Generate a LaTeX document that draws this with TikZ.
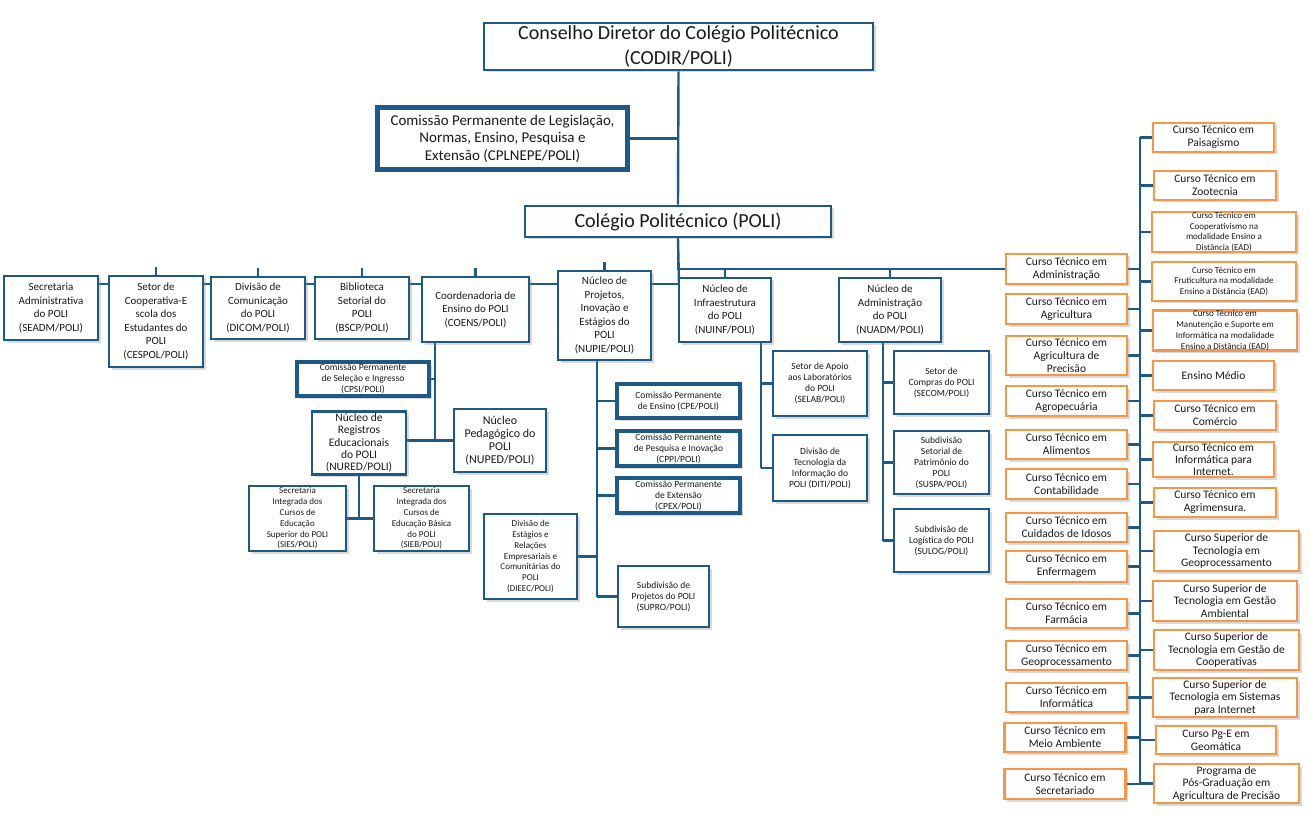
\documentclass[tikz,border=0pt]{standalone}
\usepackage{fontspec}
\setmainfont{Carlito}
\usetikzlibrary{shadows,backgrounds}
\definecolor{polblue}{HTML}{1F5A86}
\definecolor{polorange}{HTML}{F79646}
\definecolor{polink}{HTML}{1A1A1A}

\begin{document}
\begin{tikzpicture}[
  x=1pt,
  y=-1pt,
  every node/.style={text=polink},
  unit/.style={draw=polblue, line width=2.8pt, fill=white, align=center,
    inner sep=0pt, font=\fontsize{11}{13.5}\selectfont,
    drop shadow={shadow xshift=2.5pt, shadow yshift=-2.5pt, opacity=0.3}},
  small/.style={font=\fontsize{9.5}{11}\selectfont},
  tiny/.style={font=\fontsize{9}{10.8}\selectfont},
  committee/.style={unit, line width=4.8pt, small},
  course/.style={unit, draw=polorange, font=\fontsize{11.5}{13}\selectfont},
  link/.style={polblue, line width=2.4pt}
]
  \useasboundingbox (0,0) rectangle (1310,821);

  % ---- council, standing commission and the college ---------------------
  \node[unit, font=\fontsize{20}{25}\selectfont, minimum width=389pt,
    minimum height=47pt] (codir) at (678.5,46.5)
    {Conselho Diretor do Colégio Politécnico\\(CODIR/POLI)};
  \node[unit, line width=4.8pt, font=\fontsize{15}{17.5}\selectfont,
    minimum width=250pt, minimum height=62pt] (cplnepe) at (502.5,138.5)
    {Comissão Permanente de Legislação,\\Normas, Ensino, Pesquisa e\\Extensão (CPLNEPE/POLI)};
  \node[unit, font=\fontsize{20}{22}\selectfont, minimum width=306pt,
    minimum height=31pt] (poli) at (678,221.5) {Colégio Politécnico (POLI)};

  % ---- first row of units ------------------------------------------------
  \node[unit, minimum width=94pt, minimum height=64pt] (seadm) at (51,308)
    {Secretaria\\Administrativa\\do POLI\\(SEADM/POLI)};
  \node[unit, minimum width=94pt, minimum height=91pt] (cespol) at (156,321.5)
    {Setor de\\Cooperativa-E\\scola dos\\Estudantes do\\POLI\\(CESPOL/POLI)};
  \node[unit, minimum width=94pt, minimum height=62pt] (dicom) at (258,308)
    {Divisão de\\Comunicação\\do POLI\\(DICOM/POLI)};
  \node[unit, minimum width=94pt, minimum height=62pt] (bscp) at (362,308)
    {Biblioteca\\Setorial do\\POLI\\(BSCP/POLI)};
  \node[unit, minimum width=107pt, minimum height=65pt] (coens) at (475.5,309.5)
    {Coordenadoria de\\Ensino do POLI\\(COENS/POLI)};
  \node[unit, minimum width=93pt, minimum height=89pt] (nupie) at (604.5,315.5)
    {Núcleo de\\Projetos,\\Inovação e\\Estágios do\\POLI\\(NUPIE/POLI)};
  \node[unit, minimum width=92pt, minimum height=64pt] (nuinf) at (725,310)
    {Núcleo de\\Infraestrutura\\do POLI\\(NUINF/POLI)};
  \node[unit, minimum width=102pt, minimum height=64pt] (nuadm) at (890,310)
    {Núcleo de\\Administração\\do POLI\\(NUADM/POLI)};

  % ---- under COENS -------------------------------------------------------
  \node[committee, minimum width=132pt, minimum height=34pt] (cpsi) at (363,379)
    {Comissão Permanente\\de Seleção e Ingresso\\(CPSI/POLI)};
  \node[unit, font=\fontsize{11.5}{12.4}\selectfont, minimum width=94pt,
    minimum height=63pt] (nured) at (359,443)
    {Núcleo de\\Registros\\Educacionais\\do POLI\\(NURED/POLI)};
  \node[unit, font=\fontsize{12}{13}\selectfont, minimum width=92pt,
    minimum height=63pt] (nuped) at (500,440.5)
    {Núcleo\\Pedagógico do\\POLI\\(NUPED/POLI)};
  \node[unit, tiny, minimum width=97pt, minimum height=65pt] (sies) at (297.5,518.5)
    {Secretaria\\Integrada dos\\Cursos de\\Educação\\Superior do POLI\\(SIES/POLI)};
  \node[unit, tiny, minimum width=95pt, minimum height=65pt] (sieb) at (421.5,518.5)
    {Secretaria\\Integrada dos\\Cursos de\\Educação Básica\\do POLI\\(SIEB/POLI)};

  % ---- under NUPIE -------------------------------------------------------
  \node[committee, minimum width=123pt, minimum height=34pt] (cpe) at (678.5,401)
    {Comissão Permanente\\de Ensino (CPE/POLI)};
  \node[committee, minimum width=123pt, minimum height=35pt] (cppi) at (678.5,448.5)
    {Comissão Permanente\\de Pesquisa e Inovação\\(CPPI/POLI)};
  \node[committee, minimum width=123pt, minimum height=35pt] (cpex) at (678.5,495.5)
    {Comissão Permanente\\de Extensão\\(CPEX/POLI)};
  \node[unit, tiny, minimum width=93pt, minimum height=85pt] (dieec) at (530.5,556.5)
    {Divisão de\\Estágios e\\Relações\\Empresariais e\\Comunitárias do\\POLI\\(DIEEC/POLI)};
  \node[unit, small, minimum width=91pt, minimum height=61pt] (supro) at (663.5,596.5)
    {Subdivisão de\\Projetos do POLI\\(SUPRO/POLI)};

  % ---- under NUINF and NUADM ---------------------------------------------
  \node[unit, small, minimum width=94pt, minimum height=65pt] (selab) at (820,383.5)
    {Setor de Apoio\\aos Laboratórios\\do POLI\\(SELAB/POLI)};
  \node[unit, small, minimum width=94pt, minimum height=66pt] (diti) at (820,468)
    {Divisão de\\Tecnologia da\\Informação do\\POLI (DITI/POLI)};
  \node[unit, small, minimum width=95pt, minimum height=63pt] (secom) at (941.5,382.5)
    {Setor de\\Compras do POLI\\(SECOM/POLI)};
  \node[unit, small, minimum width=95pt, minimum height=63pt] (suspa) at (941.5,462.5)
    {Subdivisão\\Setorial de\\Patrimônio do\\POLI\\(SUSPA/POLI)};
  \node[unit, small, minimum width=95pt, minimum height=63pt] (sulog) at (941.5,540.5)
    {Subdivisão de\\Logística do POLI\\(SULOG/POLI)};

  % ---- courses, left column ----------------------------------------------
  \node[course, minimum width=121pt, minimum height=30pt] (adm) at (1066.5,269)
    {Curso Técnico em\\Administração};
  \node[course, minimum width=121pt, minimum height=30pt] (agri) at (1066.5,309)
    {Curso Técnico em\\Agricultura};
  \node[course, minimum width=121pt, minimum height=39pt] (agriprec) at (1066.5,355.5)
    {Curso Técnico em\\Agricultura de\\Precisão};
  \node[course, minimum width=121pt, minimum height=30pt] (agropec) at (1066.5,401)
    {Curso Técnico em\\Agropecuária};
  \node[course, minimum width=121pt, minimum height=29pt] (alim) at (1066.5,444.5)
    {Curso Técnico em\\Alimentos};
  \node[course, minimum width=121pt, minimum height=30pt] (contab) at (1066.5,484)
    {Curso Técnico em\\Contabilidade};
  \node[course, minimum width=121pt, minimum height=29pt] (idosos) at (1066.5,527.5)
    {Curso Técnico em\\Cuidados de Idosos};
  \node[course, minimum width=121pt, minimum height=31pt] (enferm) at (1066.5,566.5)
    {Curso Técnico em\\Enfermagem};
  \node[course, minimum width=121pt, minimum height=29pt] (farm) at (1066.5,613.5)
    {Curso Técnico em\\Farmácia};
  \node[course, minimum width=121pt, minimum height=29pt] (geoproc) at (1066.5,655.5)
    {Curso Técnico em\\Geoprocessamento};
  \node[course, minimum width=121pt, minimum height=29pt] (inform) at (1066.5,697.5)
    {Curso Técnico em\\Informática};
  \node[course, minimum width=121pt, minimum height=29pt] (meioamb) at (1065,737.5)
    {Curso Técnico em\\Meio Ambiente};
  \node[course, minimum width=121pt, minimum height=30pt] (secret) at (1065,784)
    {Curso Técnico em\\Secretariado};

  % ---- courses, right column ---------------------------------------------
  \node[course, minimum width=121pt, minimum height=29pt] (paisag) at (1213.5,137.5)
    {Curso Técnico em\\Paisagismo};
  \node[course, minimum width=122pt, minimum height=29pt] (zootec) at (1215,185.5)
    {Curso Técnico em\\Zootecnia};
  \node[course, tiny, minimum width=144pt, minimum height=38pt] (coopead) at (1224,232)
    {Curso Técnico em\\Cooperativismo na\\modalidade Ensino a\\Distância (EAD)};
  \node[course, tiny, minimum width=144pt, minimum height=39pt] (frutead) at (1224,281.5)
    {Curso Técnico em\\Fruticultura na modalidade\\Ensino a Distância (EAD)};
  \node[course, tiny, minimum width=144pt, minimum height=39pt] (manutead) at (1225,330.5)
    {Curso Técnico em\\Manutenção e Suporte em\\Informática na modalidade\\Ensino a Distância (EAD)};
  \node[course, minimum width=121pt, minimum height=29pt] (medio) at (1213.5,375.5)
    {Ensino Médio};
  \node[course, minimum width=122pt, minimum height=29pt] (comercio) at (1215,415.5)
    {Curso Técnico em\\Comércio};
  \node[course, font=\fontsize{11.5}{12}\selectfont, minimum width=121pt,
    minimum height=35pt] (infonet) at (1213.5,459.5)
    {Curso Técnico em\\Informática para\\Internet.};
  \node[course, minimum width=122pt, minimum height=29pt] (agrim) at (1215,502.5)
    {Curso Técnico em\\Agrimensura.};
  \node[course, font=\fontsize{11.5}{12.5}\selectfont, minimum width=145pt,
    minimum height=40pt] (supgeo) at (1226.5,551)
    {Curso Superior de\\Tecnologia em\\Geoprocessamento};
  \node[course, font=\fontsize{11.5}{12.5}\selectfont, minimum width=144pt,
    minimum height=40pt] (gestamb) at (1225,601)
    {Curso Superior de\\Tecnologia em Gestão\\Ambiental};
  \node[course, font=\fontsize{11.5}{12.5}\selectfont, minimum width=145pt,
    minimum height=40pt] (gestcoop) at (1226.5,650)
    {Curso Superior de\\Tecnologia em Gestão de\\Cooperativas};
  \node[course, font=\fontsize{11.5}{12.5}\selectfont, minimum width=144pt,
    minimum height=39pt] (sisnet) at (1225,697.5)
    {Curso Superior de\\Tecnologia em Sistemas\\para Internet};
  \node[course, minimum width=120pt, minimum height=28pt] (pge) at (1216,740)
    {Curso Pg-E em\\Geomática};
  \node[course, font=\fontsize{11.5}{12.5}\selectfont, minimum width=145pt,
    minimum height=39pt] (posgrad) at (1226.5,783.5)
    {Programa de\\Pós-Graduação em\\Agricultura de Precisão};

  % ---- connectors, behind the boxes --------------------------------------
  \coordinate (rowbus) at (679,284);
  \coordinate (coursebus) at (1140,0);
  \coordinate (coenstap) at (435,0);
  \coordinate (nupietap) at (597,0);
  \coordinate (nuinftap) at (761,0);
  \coordinate (nuadmtap) at (883,0);
  \begin{scope}[on background layer]
    \draw[link] (codir.south) -- (poli.north);
    \draw[link] (cplnepe.east) -- (cplnepe.east -| codir.south);
    \draw[link] (poli.south) |- (adm.west);
    \draw[link] (poli.south) -- (rowbus);
    \draw[link] (seadm.east |- rowbus) -- (rowbus);
    \foreach \n in {cespol,dicom,bscp,coens,nupie}
      \draw[link] (\n.north) -- ++(0,-8);
    \draw[link] (nuinf.north) -- (nuinf.north |- adm.west);
    \draw[link] (nuadm.north) -- (nuadm.north |- adm.west);

    % courses
    \draw[link] (coursebus |- paisag.west) -- (coursebus |- posgrad.west);
    \foreach \n in {adm,agri,agriprec,agropec,alim,contab,idosos,enferm,
                    farm,geoproc,inform,meioamb,secret}
      \draw[link] (\n.east) -- (\n.east -| coursebus);
    \foreach \n in {paisag,zootec,coopead,frutead,manutead,medio,comercio,
                    infonet,agrim,supgeo,gestamb,gestcoop,sisnet,pge,posgrad}
      \draw[link] (\n.west) -- (\n.west -| coursebus);

    % COENS
    \draw[link] (coenstap |- coens.south) -- (coenstap |- nuped.west);
    \draw[link] (cpsi.east) -- (cpsi.east -| coenstap);
    \draw[link] (nured.east |- nuped.west) -- (nuped.west);
    \draw[link] (nured.south) -- (nured.south |- sies.east);
    \draw[link] (sies.east) -- (sieb.west);

    % NUPIE
    \draw[link] (nupietap |- nupie.south) -- (nupietap |- supro.west);
    \foreach \n in {cpe,cppi,cpex,supro}
      \draw[link] (\n.west) -- (\n.west -| nupietap);
    \draw[link] (dieec.east) -- (dieec.east -| nupietap);

    % NUINF and NUADM
    \draw[link] (nuinftap |- nuinf.south) -- (nuinftap |- diti.west);
    \foreach \n in {selab,diti}
      \draw[link] (\n.west) -- (\n.west -| nuinftap);
    \draw[link] (nuadmtap |- nuadm.south) -- (nuadmtap |- sulog.west);
    \foreach \n in {secom,suspa,sulog}
      \draw[link] (\n.west) -- (\n.west -| nuadmtap);
  \end{scope}

\end{tikzpicture}
\end{document}
